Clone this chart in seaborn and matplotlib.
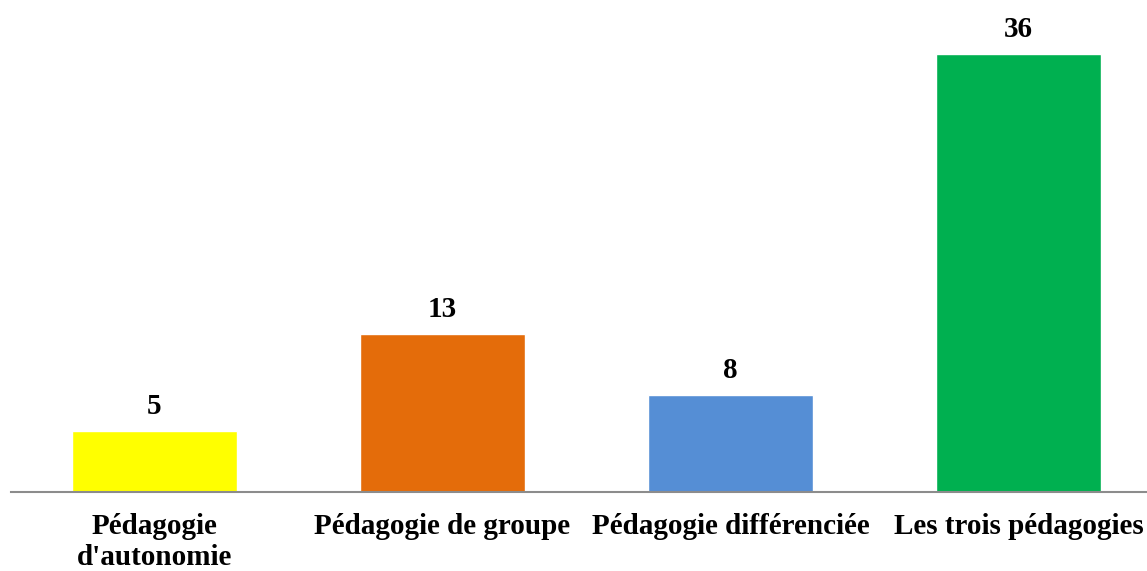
import matplotlib
matplotlib.use("Agg")
import matplotlib.pyplot as plt
import pandas as pd
import seaborn as sns

CATEGORIES = ["Pédagogie\nd'autonomie", "Pédagogie de groupe",
              "Pédagogie différenciée", "Les trois pédagogies"]
COUNTS = [5, 13, 8, 36]
COLORS = ["#FFFF00", "#E46C0A", "#558ED5", "#00B050"]

df = pd.DataFrame({"categorie": CATEGORIES, "effectif": COUNTS})

sns.set_style("white")
plt.rcParams["font.family"] = ["Liberation Serif", "DejaVu Serif"]
plt.rcParams["font.weight"] = "bold"
plt.rcParams["text.color"] = "black"
plt.rcParams["xtick.color"] = "black"

fig = plt.figure(figsize=(11.47, 5.71), dpi=100)
# axes spans from x=10px, baseline at y=492px (of 571)
ax = fig.add_axes([10.5 / 1147, 79 / 571, 1152 / 1147, 492 / 571])

sns.barplot(data=df, x="categorie", y="effectif", hue="categorie",
            palette=COLORS, width=0.573, legend=False, saturation=1, ax=ax)

for i, v in enumerate(COUNTS):
    ax.annotate(f"{v}", (i, v), xytext=(0, 12), textcoords="offset points",
                ha="center", va="baseline", fontsize=21, fontweight="bold",
                color="black")

ax.set_ylim(0, 40.4)
ax.set_xlim(-0.5, 3.5)
ax.set_xlabel("")
ax.set_ylabel("")
ax.set_yticks([])
ax.tick_params(axis="x", length=0, pad=15, labelsize=21, labelcolor="black")
for lbl in ax.get_xticklabels():
    lbl.set_fontweight("bold")
    lbl.set_linespacing(1.18)

for side in ["top", "right", "left"]:
    ax.spines[side].set_visible(False)
ax.spines["bottom"].set_color("#8C8C8C")
ax.spines["bottom"].set_linewidth(1.5)

fig.savefig("out.png", dpi=100)
plt.close(fig)
